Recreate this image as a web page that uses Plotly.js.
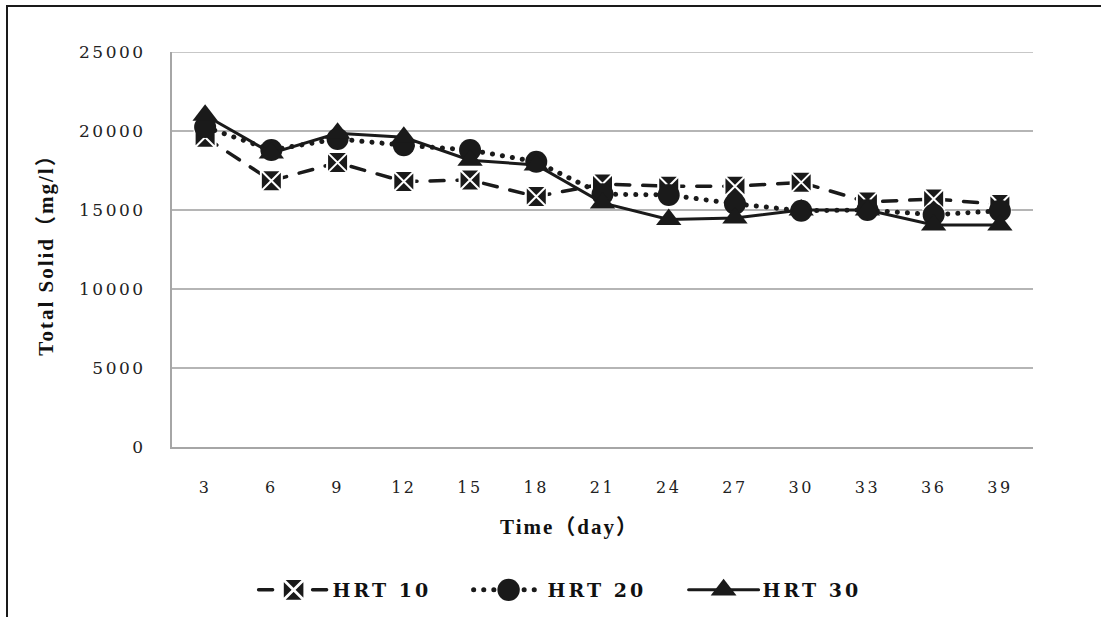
<!DOCTYPE html>
<html>
<head>
<meta charset="utf-8">
<script src="https://cdn.plot.ly/plotly-3.0.1.min.js"></script>
<style>
  html, body { margin: 0; padding: 0; background: #fff; }
  #wrap { position: relative; width: 1101px; height: 617px; }
  #chart { width: 1101px; height: 617px; }
  #frame {
    position: absolute; left: 6px; top: 5px; right: 0; bottom: 0;
    border-top: 2px solid #1a1a1a; border-left: 2px solid #1a1a1a;
    pointer-events: none;
  }
  .xtick text, .ytick text { letter-spacing: 2.5px; }
  .legendtext { letter-spacing: 3px; }
  .g-ytitle text, .annotation-text { letter-spacing: 2px; }
  .scatterlayer .js-line, .legendlines path { stroke-linecap: round; }
</style>
</head>
<body>
<div id="wrap">
  <div id="chart"></div>
  <div id="frame"></div>
</div>
<script>
// Sampling days
const days = ['3', '6', '9', '12', '15', '18', '21', '24', '27', '30', '33', '36', '39'];

// Total solid (mg/l) per hydraulic retention time
const hrt10 = [19600, 16850, 18000, 16800, 16900, 15850, 16650, 16500, 16500, 16750, 15500, 15700, 15350];
const hrt20 = [20250, 18800, 19500, 19100, 18800, 18050, 16000, 15950, 15400, 14950, 15000, 14700, 14950];
const hrt30 = [21000, 18600, 19850, 19600, 18150, 17850, 15450, 14400, 14500, 15000, 15000, 14050, 14050];

const seriesNames = ['HRT 10', 'HRT 20', 'HRT 30'];
const xTitle = 'Time（day）';
const yTitle = 'Total Solid（mg/l）';

const yMax = 25000;
const ink = '#1a1a1a';
const gridGrey = '#b5b5b5';

const traces = [
  {
    x: days, y: hrt10, name: seriesNames[0], type: 'scatter', mode: 'lines+markers',
    line: { color: ink, width: 3.5, dash: '14px,13px' },
    marker: { symbol: 'square-x', size: 21, color: ink, line: { color: '#ffffff', width: 2 } }
  },
  {
    x: days, y: hrt20, name: seriesNames[1], type: 'scatter', mode: 'lines+markers',
    line: { color: ink, width: 5, dash: '0.1px,10px' },
    marker: { symbol: 'circle', size: 22, color: ink }
  },
  {
    x: days, y: hrt30, name: seriesNames[2], type: 'scatter', mode: 'lines+markers',
    line: { color: ink, width: 3 },
    marker: { symbol: 'triangle-up', size: 22, color: ink }
  }
];

const serif = '"DejaVu Serif", "Liberation Serif", serif';
const titleSerif = '"Liberation Serif", "Noto Sans CJK JP", serif';
const titleFont = { family: titleSerif, size: 21, color: '#111', weight: 'bold' };

const layout = {
  width: 1101, height: 617,
  margin: { l: 172, r: 68, t: 52, b: 170, autoexpand: false },
  paper_bgcolor: '#ffffff', plot_bgcolor: '#ffffff',
  showlegend: true,
  xaxis: {
    type: 'category',
    range: [-0.5, days.length - 0.5],
    showgrid: false, zeroline: false,
    showline: true, linecolor: '#a6a6a6', linewidth: 2,
    ticks: '', ticklabelstandoff: 25,
    tickfont: { family: serif, size: 16, color: '#222' }
  },
  yaxis: {
    range: [0, yMax], dtick: 5000, tick0: 0, tickformat: 'd',
    showgrid: true, gridcolor: gridGrey, gridwidth: 1.5,
    zeroline: false,
    showline: true, linecolor: '#a6a6a6', linewidth: 2,
    ticks: '', ticklabelstandoff: 21,
    tickfont: { family: serif, size: 17, color: '#222' },
    title: { text: yTitle, font: titleFont, standoff: 20 }
  },
  // x title sits left of the plot centre, under the legend's centre line
  annotations: [
    { text: xTitle, xref: 'paper', yref: 'paper', x: 0.462, y: -0.2025,
      xanchor: 'center', yanchor: 'middle', showarrow: false, font: titleFont }
  ],
  // top gridline sits on the plot edge, where the axis would skip it
  shapes: [
    { type: 'line', xref: 'paper', x0: 0, x1: 1, yref: 'y', y0: yMax, y1: yMax,
      line: { color: gridGrey, width: 1.5 }, layer: 'below' }
  ],
  legend: {
    orientation: 'h',
    x: 0.118, xanchor: 'left',
    y: -0.362, yanchor: 'middle',
    font: { family: serif, size: 19, color: '#111', weight: 'bold' },
    entrywidth: 170, entrywidthmode: 'pixels',
    itemsizing: 'trace'
  }
};

Plotly.newPlot('chart', traces, layout, { displayModeBar: false, staticPlot: true }).then(function (gd) {
  // longer legend line samples, larger symbols, label pushed past the line
  gd.querySelectorAll('.legend .traces').forEach(function (item) {
    item.querySelectorAll('.legendlines path').forEach(function (p) { p.setAttribute('d', 'M-15,0h70'); });
    item.querySelectorAll('.legendpoints path').forEach(function (p) {
      const t = p.getAttribute('transform') || '';
      p.setAttribute('transform', t + ' scale(1.4)');
    });
    item.querySelectorAll('text.legendtext').forEach(function (t) { t.setAttribute('x', '59'); });
  });
  const box = gd.querySelector('.legend .scrollbox');
  if (box) box.removeAttribute('clip-path');
});
</script>
</body>
</html>
